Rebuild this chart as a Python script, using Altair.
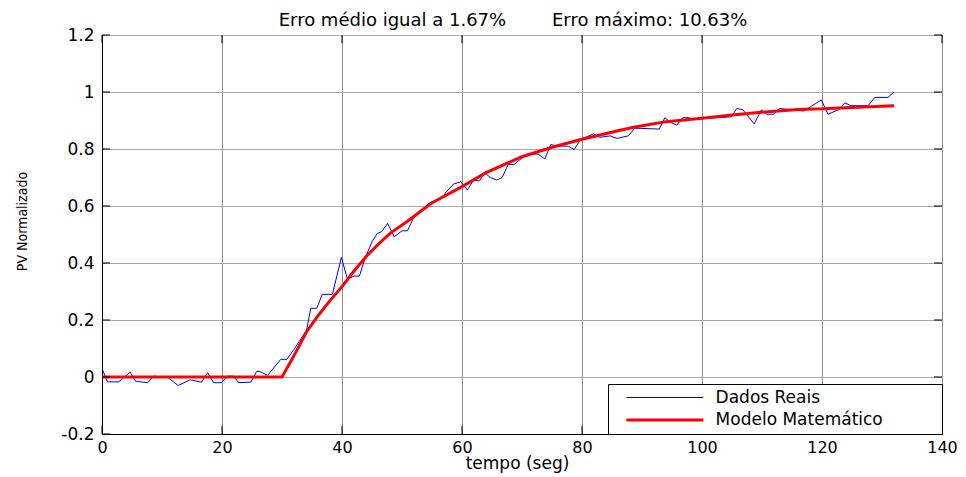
import altair as alt
import pandas as pd

# ---- data ----
t_real = [0, 0.9, 2.8, 4.7, 5.6, 7.6, 8.6, 11, 12.7, 14.7, 16.6, 17.6, 18.6, 19.9, 20.9, 21.9,
          22.8, 24.8, 25.8, 26.3, 27.6, 29.8, 30.8, 32.0, 34.1, 34.8, 35.8, 36.7, 38.4, 39.9,
          40.9, 42.0, 42.9, 43.8, 45.0, 45.9, 46.6, 47.6, 48.7, 50.0, 50.9, 51.9, 54.7, 56.6,
          57.4, 58.6, 59.8, 60.9, 61.9, 62.9, 63.8, 64.7, 65.8, 66.7, 67.7, 68.7, 70.8, 72.7,
          73.8, 74.8, 75.8, 77.7, 78.7, 79.8, 81.9, 83.0, 84.7, 85.8, 87.7, 88.8, 92.9, 93.8,
          94.8, 95.8, 96.8, 97.7, 98.8, 100.0, 102.7, 104.9, 105.8, 106.8, 108.7, 109.9, 110.8,
          111.9, 112.9, 116.0, 116.9, 118.3, 119.9, 121.0, 122.9, 123.8, 124.8, 127.7, 128.8,
          131.0, 132.0]
v_real = [0.03, -0.017, -0.017, 0.017, -0.015, -0.02, 0.003, -0.002, -0.03, -0.01, -0.018, 0.015,
          -0.02, -0.02, 0.003, 0.003, -0.02, -0.018, 0.02, 0.019, 0.006, 0.062, 0.062, 0.097,
          0.165, 0.241, 0.241, 0.29, 0.29, 0.42, 0.344, 0.354, 0.354, 0.414, 0.475, 0.504, 0.51,
          0.539, 0.492, 0.513, 0.513, 0.557, 0.612, 0.627, 0.65, 0.677, 0.685, 0.656, 0.691,
          0.688, 0.717, 0.70, 0.691, 0.70, 0.746, 0.746, 0.782, 0.782, 0.765, 0.816, 0.81, 0.81,
          0.798, 0.834, 0.853, 0.841, 0.846, 0.837, 0.846, 0.873, 0.87, 0.91, 0.893, 0.884, 0.91,
          0.91, 0.904, 0.907, 0.91, 0.913, 0.942, 0.938, 0.888, 0.937, 0.922, 0.922, 0.942,
          0.936, 0.933, 0.951, 0.972, 0.922, 0.939, 0.962, 0.952, 0.952, 0.981, 0.981, 1.0]

t_model = [0, 30, 32, 34.1, 36, 38, 40, 42, 44, 46, 48, 50.8, 54.8, 60, 64, 70, 75, 80, 86,
           88.6, 94, 100, 105, 111, 116, 120, 124, 132]
v_model = [0, 0, 0.075, 0.159, 0.215, 0.268, 0.317, 0.372, 0.422, 0.465, 0.504, 0.545, 0.609,
           0.668, 0.717, 0.773, 0.806, 0.834, 0.864, 0.876, 0.896, 0.908, 0.919, 0.931, 0.939,
           0.941, 0.945, 0.952]

x_ticks = [0, 20, 40, 60, 80, 100, 120, 140]
y_ticks = [-0.2, 0, 0.2, 0.4, 0.6, 0.8, 1, 1.2]
series = ["Dados Reais", "Modelo Matemático"]
colors = ["#0000ff", "#ff0000"]
widths = [1, 3]

title_text = "Erro médio igual a 1.67%" + "\u00a0" * 8 + "Erro máximo: 10.63%"

# ---- tables ----
df_real = pd.DataFrame({"t": t_real, "v": v_real, "serie": series[0]})
df_model = pd.DataFrame({"t": t_model, "v": v_model, "serie": series[1]})

x_min, x_max = x_ticks[0], x_ticks[-1]
y_min, y_max = y_ticks[0], y_ticks[-1]
tick_px = 8
tl_x = tick_px * (x_max - x_min) / 840
tl_y = tick_px * (y_max - y_min) / 399
rows = []
for xt in x_ticks:
    rows.append({"x": xt, "x2": xt, "y": y_min, "y2": y_min + tl_y})
    rows.append({"x": xt, "x2": xt, "y": y_max - tl_y, "y2": y_max})
for yt in y_ticks:
    rows.append({"x": x_min, "x2": x_min + tl_x, "y": yt, "y2": yt})
    rows.append({"x": x_max - tl_x, "x2": x_max, "y": yt, "y2": yt})
df_ticks = pd.DataFrame(rows)

FONT = "DejaVu Sans"

xs = alt.Scale(domain=[x_min, x_max], nice=False, zero=False)
ys = alt.Scale(domain=[y_min, y_max], nice=False, zero=False)

x_axis = alt.Axis(values=x_ticks, title="tempo (seg)", grid=True, gridColor="#8c8c8c",
                  gridWidth=1, ticks=False, tickSize=0, labelPadding=5, labelFont=FONT,
                  labelFontSize=16, labelColor="black", labelFlush=False, labelOverlap=False,
                  titleFont=FONT, titleFontSize=17, titleFontWeight="normal", titleColor="black",
                  titleY=21, titleX=415, titleBaseline="top", domainColor="black",
                  labelExpr="'' + datum.value")
y_axis = alt.Axis(values=y_ticks, title="PV Normalizado", grid=True, gridColor="#a8a8a8",
                  gridWidth=1, ticks=False, tickSize=0, labelPadding=8, labelFont=FONT,
                  labelFontSize=17, labelColor="black", labelFlush=False, labelOverlap=False,
                  titleFont="Liberation Sans Narrow, DejaVu Sans Condensed, Liberation Sans",
                  titleFontSize=14, titleFontWeight="normal", titleColor="black",
                  titleX=-80, titleY=186, titleBaseline="middle",
                  domainColor="black", labelExpr="'' + datum.value")

legend = alt.Legend(title=None, orient="none", legendX=506, legendY=349, direction="vertical",
                    symbolType="M0.5,0H10.5", symbolSize=237, labelOffset=83.6, padding=5,
                    rowPadding=4.6, fillColor="white", strokeColor="black", cornerRadius=0,
                    labelFont=FONT, labelFontSize=17, labelColor="black", labelLimit=0,
                    labelExpr="datum.label + '" + "\u00a0" * 10 + "\u200b'")

color = alt.Color("serie:N", scale=alt.Scale(domain=series, range=colors), legend=legend)
sw = alt.StrokeWidth("serie:N", scale=alt.Scale(domain=series, range=widths), legend=legend)

blue = alt.Chart(df_real).mark_line(clip=True).encode(
    x=alt.X("t:Q", scale=xs, axis=x_axis),
    y=alt.Y("v:Q", scale=ys, axis=y_axis),
    color=color, strokeWidth=sw)
red = alt.Chart(df_model).mark_line(clip=True).encode(
    x=alt.X("t:Q", scale=xs, axis=x_axis),
    y=alt.Y("v:Q", scale=ys, axis=y_axis),
    color=color, strokeWidth=sw)
ticks = alt.Chart(df_ticks).mark_rule(color="black", strokeWidth=1).encode(
    x=alt.X("x:Q", scale=xs, axis=x_axis), x2="x2:Q",
    y=alt.Y("y:Q", scale=ys, axis=y_axis), y2="y2:Q")

chart = alt.layer(blue, red, ticks).properties(
    width=840, height=399,
    title=alt.TitleParams(text=title_text, font=FONT, fontSize=18, fontWeight="normal",
                          color="black", anchor="middle", frame="group", dx=-9, offset=-4),
    padding={"left": 94, "top": 27, "right": 16, "bottom": 42},
    autosize=alt.AutoSizeParams(type="none"),
    background="white",
).configure_view(stroke="black", strokeWidth=1)

chart.save("out.html", embed_options={"renderer": "svg", "actions": False})
